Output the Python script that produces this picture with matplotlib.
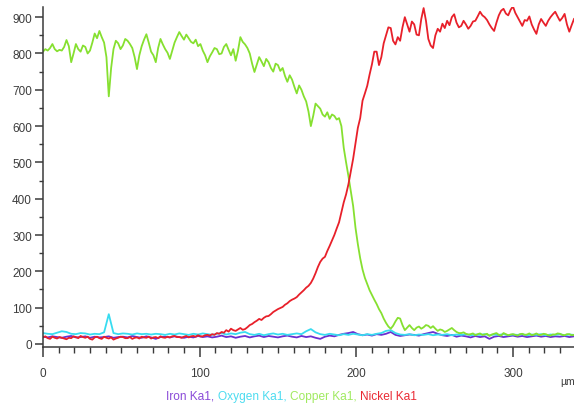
import numpy as np
import matplotlib
matplotlib.use("Agg")
import matplotlib.pyplot as plt
from matplotlib import font_manager
from matplotlib.ticker import MultipleLocator

# Line-scan distance (µm): major elements every 1.5 µm, minor ones every 3 µm
distance_fine_um = np.arange(0, 339.1, 1.5)
distance_um = np.arange(0, 340, 3)

# Counts per element along the scan
iron_ka1 = [
    20, 18, 21, 19, 17, 20, 22, 18, 19, 21, 17, 20, 18, 19, 21, 17, 19, 20, 18, 22,
    19, 17, 21, 18, 14, 19, 20, 18, 21, 19, 17, 20, 18, 22, 19, 21, 18, 20, 23, 19,
    21, 17, 20, 22, 18, 21, 23, 19, 22, 20, 18, 21, 23, 20, 18, 22, 19, 21, 17, 14,
    20, 23, 21, 25, 28, 30, 33, 27, 24, 26, 23, 27, 25, 28, 33, 25, 22, 24, 26, 25,
    23, 27, 30, 33, 28, 24, 22, 25, 20, 23, 21, 18, 22, 19, 21, 14, 20, 22, 19, 21,
    23, 20, 22, 19, 21, 23, 20, 22, 19, 21, 20, 22, 19, 21,
]
oxygen_ka1 = [
    30, 28, 27, 31, 35, 33, 28, 27, 30, 29, 26, 28, 27, 32, 82, 30, 27, 29, 28, 26,
    29, 27, 28, 26, 28, 27, 25, 28, 26, 29, 27, 25, 28, 26, 29, 27, 25, 28, 30, 26,
    29, 27, 31, 33, 27, 25, 28, 24, 27, 29, 26, 28, 25, 27, 29, 27, 35, 41, 32, 27,
    25, 28, 26, 24, 27, 25, 28, 26, 24, 27, 25, 28, 30, 36, 38, 30, 26, 25, 27, 24,
    26, 25, 27, 24, 26, 25, 27, 24, 26, 25, 27, 24, 26, 25, 27, 24, 26, 25, 27, 24,
    26, 25, 27, 24, 26, 25, 27, 24, 26, 25, 27, 24, 26, 25,
]
copper_ka1 = [
    805, 812, 808, 815, 826, 812, 806, 810, 808, 818, 837, 820, 776, 800, 826, 812,
    805, 822, 818, 800, 808, 830, 855, 842, 862, 845, 830, 790, 682, 760, 812, 835,
    828, 812, 822, 840, 835, 826, 815, 790, 757, 795, 820, 838, 853, 830, 805, 795,
    776, 815, 840, 825, 812, 802, 785, 808, 830, 845, 859, 848, 838, 852, 842, 832,
    828, 838, 820, 826, 808, 795, 776, 792, 803, 815, 812, 798, 800, 818, 826, 810,
    795, 812, 780, 808, 845, 832, 825, 815, 800, 772, 749, 770, 790, 778, 765, 785,
    776, 760, 750, 772, 768, 752, 760, 738, 722, 740, 728, 708, 690, 712, 700, 682,
    668, 640, 600, 628, 662, 655, 648, 632, 626, 638, 620, 632, 628, 618, 622, 600,
    540, 500, 462, 420, 380, 320, 275, 236, 205, 182, 165, 148, 135, 122, 110, 96,
    85, 70, 58, 48, 42, 50, 62, 72, 70, 52, 38, 45, 52, 44, 38, 45,
    48, 42, 46, 52, 50, 44, 49, 42, 36, 40, 38, 33, 36, 40, 44, 38,
    33, 30, 30, 32, 28, 26, 27, 29, 24, 27, 29, 25, 26, 28, 22, 26,
    28, 30, 25, 23, 30, 27, 24, 26, 27, 25, 23, 27, 28, 25, 26, 29,
    24, 26, 29, 25, 25, 28, 27, 24, 23, 26, 26, 29, 28, 25, 24, 27,
    27, 24, 25,
]
nickel_ka1 = [
    18, 21, 16, 14, 20, 17, 15, 19, 17, 15, 13, 17, 16, 21, 19, 16,
    22, 19, 17, 20, 14, 12, 18, 20, 16, 14, 20, 17, 15, 18, 12, 15,
    17, 20, 19, 16, 16, 19, 14, 17, 18, 15, 20, 18, 17, 20, 15, 18,
    19, 16, 21, 18, 17, 20, 18, 21, 22, 19, 19, 17, 20, 22, 18, 21,
    22, 20, 24, 21, 21, 24, 25, 23, 27, 25, 30, 28, 33, 31, 38, 34,
    42, 38, 36, 40, 44, 39, 41, 46, 52, 55, 60, 64, 69, 66, 72, 76,
    77, 82, 88, 92, 96, 99, 102, 108, 112, 118, 122, 125, 129, 136, 142, 148,
    155, 160, 168, 180, 195, 212, 226, 235, 240, 256, 270, 285, 300, 318, 335, 362,
    390, 412, 440, 475, 510, 552, 595, 622, 670, 690, 711, 742, 770, 805, 805, 768,
    790, 828, 850, 872, 870, 835, 825, 845, 835, 872, 900, 880, 860, 888, 880, 852,
    850, 895, 925, 890, 840, 822, 815, 850, 868, 860, 882, 870, 890, 878, 900, 908,
    885, 872, 876, 890, 880, 868, 876, 888, 890, 902, 915, 905, 900, 892, 880, 870,
    862, 885, 905, 918, 923, 910, 905, 920, 930, 912, 900, 888, 876, 892, 890, 902,
    880, 866, 854, 880, 895, 885, 876, 890, 900, 908, 915, 902, 890, 898, 909, 880,
    860, 878, 895,
]

series = [
    ("Iron Ka1", distance_um, iron_ka1, "#6a2fd0"),
    ("Oxygen Ka1", distance_um, oxygen_ka1, "#38dcf0"),
    ("Copper Ka1", distance_fine_um, copper_ka1, "#86e030"),
    ("Nickel Ka1", distance_fine_um, nickel_ka1, "#e8202a"),
]
label_colors = ["#8a4ad8", "#4ddcf0", "#a0ea60", "#ea2a34"]

installed = {f.name for f in font_manager.fontManager.ttflist}
tick_family = "Liberation Sans" if "Liberation Sans" in installed else "DejaVu Sans"
legend_family = ("Liberation Sans Narrow" if "Liberation Sans Narrow" in installed
                 else tick_family)

W, H = 574, 410
fig = plt.figure(figsize=(W / 100, H / 100), dpi=100)
ax = fig.add_axes([43 / W, 1 - 347.5 / H, 1 - 43 / W, (347.5 - 8) / H])

for name, x, values, color in series:
    ax.plot(x, values, color=color, lw=1.3, solid_joinstyle="round")

ax.set_xlim(0, 339)
ax.set_ylim(-7, 928)

for side in ("top", "right"):
    ax.spines[side].set_visible(False)
for side in ("left", "bottom"):
    ax.spines[side].set_color("#3a3a3a")
    ax.spines[side].set_linewidth(1.1)

ax.xaxis.set_major_locator(MultipleLocator(100))
ax.xaxis.set_minor_locator(MultipleLocator(10))
ax.yaxis.set_major_locator(MultipleLocator(100))
ax.yaxis.set_minor_locator(MultipleLocator(50))

ax.tick_params(axis="x", which="major", length=7.5, width=1.1, color="#3a3a3a", pad=7)
ax.tick_params(axis="x", which="minor", length=4.5, width=1.0, color="#3a3a3a")
ax.tick_params(axis="y", which="major", length=5.5, width=1.1, color="#3a3a3a", pad=2.5)
ax.tick_params(axis="y", which="minor", length=3, width=1.0, color="#3a3a3a")
for lab in ax.get_xticklabels() + ax.get_yticklabels():
    lab.set_fontfamily(tick_family)
    lab.set_fontsize(8.5)
    lab.set_color("#3c3c3c")

fig.text(560 / W, 1 - 382 / H, "µm", fontsize=7.5, family=tick_family,
         color="#3c3c3c", ha="left", va="center")

# Coloured series names under the chart, chained left to right
prev = fig.text(166 / W, 1 - 397 / H, series[0][0] + ",", color=label_colors[0],
                fontsize=8.6, family=legend_family, ha="left", va="center")
for i in range(1, len(series)):
    txt = series[i][0] + ("," if i < len(series) - 1 else "")
    prev = ax.annotate(
        txt, xy=(1, 0.5), xycoords=prev, xytext=(2.6, 0), textcoords="offset points",
        color=label_colors[i], fontsize=8.6, family=legend_family,
        ha="left", va="center", annotation_clip=False)

fig.savefig("out.png", dpi=100)
